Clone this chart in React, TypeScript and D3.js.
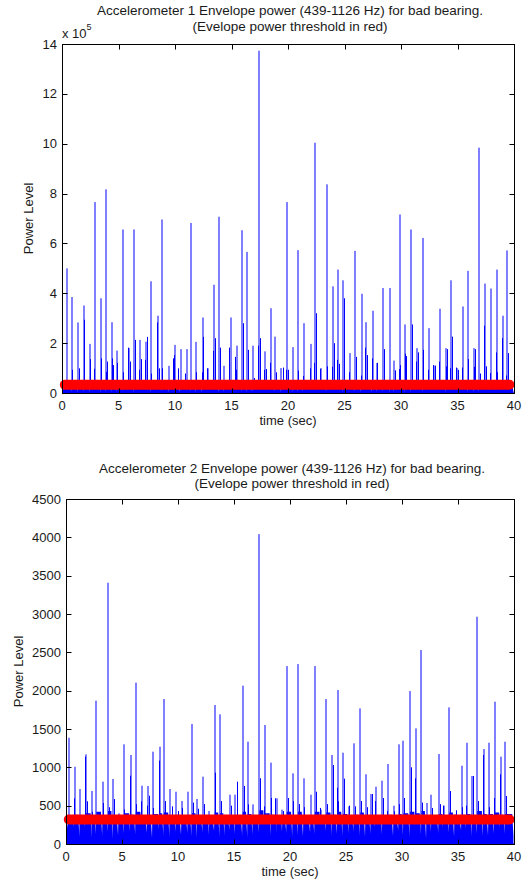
import React from 'react';
import * as d3 from 'd3';

// ---------- Shared axis data ----------
const timeTicks = [0, 5, 10, 15, 20, 25, 30, 35, 40];
const acc1YTicks = [0, 2, 4, 6, 8, 10, 12, 14]; // x 10^5
const acc2YTicks = [0, 500, 1000, 1500, 2000, 2500, 3000, 3500, 4000, 4500];

// ---------- Accelerometer 1 (values in units of 10^5) ----------
const acc1PeakTimes = [0.41, 0.92, 1.42, 1.95, 2.51, 2.93, 3.43, 3.93, 4.40, 4.85, 5.38, 5.91, 6.41, 6.91, 7.42, 7.89, 8.51, 8.89, 9.46, 10.00, 10.49, 11.02, 11.41, 11.88, 12.44, 12.91, 13.44, 13.92, 14.36, 14.92, 15.48, 15.96, 16.40, 16.87, 17.44, 17.97, 18.50, 18.88, 19.40, 19.92, 20.45, 20.92, 21.39, 22.04, 22.43, 22.95, 23.43, 24.00, 24.44, 24.91, 25.47, 25.95, 26.51, 26.92, 27.48, 27.90, 28.43, 29.02, 29.40, 29.90, 30.38, 30.91, 31.40, 31.94, 32.47, 32.95, 33.48, 34.00, 34.45, 34.95, 35.52, 35.96, 36.45, 36.91, 37.47, 37.94, 38.48, 39.03, 39.42];
const acc1PeakValues = [5.0, 3.85, 2.83, 3.51, 1.97, 7.66, 3.8, 8.17, 2.84, 1.7, 6.56, 1.8, 6.56, 2.13, 2.06, 4.48, 3.1, 6.96, 1.09, 1.93, 1.76, 1.76, 6.82, 2.05, 3.03, 0.99, 4.34, 7.07, 1.09, 3.03, 1.9, 6.53, 5.66, 1.9, 13.73, 1.67, 3.4, 2.26, 1.0, 7.66, 1.84, 5.73, 2.8, 1.97, 10.04, 1.0, 8.37, 4.28, 4.95, 4.52, 1.6, 5.7, 3.98, 2.84, 3.3, 1.2, 4.21, 4.21, 1.3, 7.16, 2.75, 6.56, 1.8, 6.22, 2.6, 1.1, 3.38, 1.8, 4.52, 1.0, 3.47, 4.9, 1.8, 9.84, 4.39, 4.19, 4.95, 3.1, 5.72];
const acc1SubTimes = [0.86, 1.48, 1.92, 2.48, 2.85, 3.48, 3.96, 3.90, 4.45, 4.47, 4.88, 5.44, 5.87, 6.04, 6.45, 6.80, 6.97, 7.37, 7.48, 7.91, 8.45, 8.55, 8.84, 9.80, 9.94, 10.30, 10.90, 11.82, 12.38, 12.50, 12.80, 13.33, 13.50, 13.95, 14.81, 15.31, 15.43, 16.02, 16.46, 16.96, 17.35, 17.50, 17.91, 18.03, 18.44, 18.95, 19.52, 19.80, 19.98, 20.86, 21.33, 21.92, 22.30, 22.49, 22.86, 23.49, 23.85, 24.08, 24.35, 24.50, 24.99, 25.40, 25.98, 26.42, 26.80, 26.98, 27.40, 27.84, 28.49, 29.44, 29.85, 29.95, 30.35, 30.45, 30.97, 31.35, 31.47, 31.97, 32.40, 32.82, 33.00, 33.40, 33.95, 34.10, 34.33, 34.48, 34.90, 35.00, 35.37, 35.93, 36.45, 36.57, 36.97, 37.37, 37.52, 37.88, 38.42, 38.53, 38.90, 38.98, 39.32, 39.50];
const acc1SubValues = [0.93, 0.99, 2.94, 1.36, 0.97, 1.39, 1.26, 0.85, 1.39, 1.12, 1.21, 0.83, 1.82, 1.26, 2.13, 0.93, 1.36, 1.33, 2.25, 0.78, 2.83, 0.99, 0.99, 1.39, 1.52, 0.99, 0.78, 0.83, 0.83, 2.25, 0.99, 1.69, 2.2, 1.82, 1.82, 1.45, 0.93, 2.8, 1.73, 0.6, 1.9, 2.2, 0.93, 0.96, 1.21, 0.83, 1.02, 0.93, 0.93, 0.9, 0.68, 0.99, 1.21, 3.2, 0.96, 1.07, 1.05, 2.0, 1.33, 1.17, 3.8, 0.83, 1.45, 0.7, 1.82, 1.52, 1.39, 1.21, 1.76, 0.91, 0.96, 1.12, 1.58, 1.48, 2.75, 1.26, 1.63, 1.73, 0.93, 1.12, 1.1, 1.26, 1.07, 1.76, 0.99, 2.26, 1.02, 0.93, 1.02, 1.36, 1.05, 1.76, 0.78, 2.7, 1.07, 0.8, 1.63, 0.83, 0.78, 2.2, 0.7, 1.6];
const acc1FloorHi = [0.38, 0.34, 0.41, 0.36, 0.33, 0.44, 0.37, 0.42, 0.35, 0.31, 0.4, 0.34, 0.39, 0.36, 0.33, 0.41, 0.37, 0.43, 0.3, 0.35, 0.33, 0.32, 0.4, 0.34, 0.38, 0.3, 0.39, 0.42, 0.31, 0.37, 0.33, 0.4, 0.39, 0.32, 0.46, 0.33, 0.38, 0.35, 0.3, 0.42, 0.34, 0.39, 0.36, 0.33, 0.44, 0.3, 0.42, 0.38, 0.4, 0.39, 0.32, 0.4, 0.37, 0.35, 0.36, 0.31, 0.38, 0.38, 0.31, 0.41, 0.35, 0.4, 0.33, 0.39, 0.35, 0.3, 0.36, 0.33, 0.38, 0.3, 0.36, 0.39, 0.33, 0.44, 0.38, 0.37, 0.39, 0.36, 0.4];
const acc1FloorLo = [0.05, 0.03, 0.06, 0.04, 0.07, 0.03, 0.05, 0.04, 0.06, 0.08, 0.04, 0.05, 0.03, 0.06, 0.05, 0.04, 0.07, 0.03, 0.06, 0.05, 0.04, 0.07, 0.03, 0.05, 0.06, 0.08, 0.04, 0.05, 0.07, 0.04, 0.06, 0.03, 0.05, 0.07, 0.03, 0.05, 0.06, 0.04, 0.08, 0.04, 0.05, 0.03, 0.06, 0.05, 0.03, 0.07, 0.04, 0.05, 0.04, 0.06, 0.07, 0.05, 0.04, 0.06, 0.05, 0.07, 0.04, 0.05, 0.08, 0.04, 0.05, 0.03, 0.06, 0.04, 0.05, 0.07, 0.05, 0.06, 0.04, 0.08, 0.05, 0.04, 0.06, 0.03, 0.05, 0.05, 0.04, 0.06, 0.05];
const acc1Threshold = 0.33; // x 10^5
const acc1ThresholdSpan = [0.25, 39.6];

// ---------- Accelerometer 2 ----------
const acc2PeakTimes = [0.24, 0.81, 1.25, 1.79, 2.36, 2.71, 3.28, 3.76, 4.21, 4.70, 5.22, 5.79, 6.23, 6.80, 7.28, 7.73, 8.38, 8.74, 9.28, 9.84, 10.32, 10.89, 11.25, 11.72, 12.23, 12.80, 13.27, 13.75, 14.20, 14.64, 15.12, 15.78, 16.23, 16.70, 17.27, 17.78, 18.34, 18.80, 19.33, 19.72, 20.25, 20.73, 21.21, 21.84, 22.22, 22.79, 23.24, 23.77, 24.25, 24.73, 25.27, 25.72, 26.28, 26.75, 27.23, 27.68, 28.25, 28.78, 29.25, 29.71, 30.13, 30.72, 31.26, 31.74, 32.20, 32.63, 33.29, 33.75, 34.22, 34.70, 35.32, 35.80, 36.27, 36.72, 37.29, 37.73, 38.27, 38.84, 39.22];
const acc2PeakValues = [1386, 1008, 717, 1169, 691, 1869, 813, 3408, 848, 400, 1300, 1161, 2104, 761, 756, 1204, 1269, 1891, 717, 682, 561, 682, 1565, 587, 878, 430, 1813, 1691, 380, 643, 643, 2065, 1334, 517, 4042, 1552, 1061, 596, 448, 2321, 922, 2347, 857, 643, 2321, 448, 1891, 1161, 2008, 1191, 491, 1313, 1769, 909, 652, 747, 826, 1043, 500, 1300, 1347, 1995, 1508, 2530, 535, 643, 1174, 500, 1782, 387, 1021, 1321, 887, 2964, 1239, 1321, 1856, 1139, 1334];
const acc2SubTimes = [0.72, 1.73, 1.85, 2.30, 3.33, 3.82, 4.27, 5.16, 5.70, 6.29, 6.74, 7.19, 7.37, 7.80, 8.30, 8.80, 9.50, 10.00, 10.40, 11.30, 11.80, 12.30, 13.32, 13.80, 14.70, 15.30, 15.85, 16.29, 17.32, 17.72, 18.28, 18.62, 19.40, 19.79, 20.30, 20.80, 21.27, 22.29, 22.70, 23.30, 23.86, 24.19, 24.32, 24.82, 25.30, 25.80, 26.35, 26.84, 27.30, 27.60, 28.34, 28.70, 29.30, 29.77, 30.22, 30.78, 31.20, 31.80, 32.70, 33.35, 33.70, 34.31, 34.80, 35.37, 35.75, 36.34, 36.80, 37.20, 37.80, 38.25, 38.78, 39.30];
const acc2SubValues = [596, 1139, 557, 420, 535, 480, 587, 450, 891, 520, 557, 500, 630, 470, 1087, 560, 491, 430, 470, 540, 460, 520, 930, 560, 500, 813, 756, 517, 857, 491, 600, 596, 430, 600, 560, 520, 480, 682, 470, 520, 1030, 734, 557, 852, 500, 491, 560, 480, 652, 560, 600, 430, 426, 520, 600, 1000, 857, 540, 470, 520, 500, 691, 440, 480, 500, 887, 560, 1161, 480, 600, 909, 626];
const acc2FloorHi = [360, 380, 340, 400, 350, 420, 360, 430, 370, 330, 400, 380, 420, 350, 360, 390, 400, 410, 350, 340, 330, 360, 400, 340, 370, 320, 410, 400, 330, 350, 360, 420, 390, 340, 440, 400, 380, 350, 330, 420, 370, 420, 360, 350, 420, 330, 410, 380, 420, 390, 340, 380, 410, 370, 350, 360, 370, 380, 340, 390, 400, 420, 400, 430, 350, 360, 390, 340, 410, 330, 380, 390, 370, 430, 390, 390, 410, 380, 390];
const acc2FloorLo = [120, 90, 150, 80, 130, 100, 160, 70, 110, 140, 90, 120, 100, 150, 80, 130, 110, 90, 160, 120, 140, 100, 80, 150, 120, 170, 90, 110, 180, 130, 100, 80, 120, 150, 70, 110, 130, 160, 140, 90, 120, 100, 150, 130, 90, 170, 110, 120, 100, 140, 160, 110, 90, 130, 150, 120, 140, 100, 170, 110, 90, 80, 120, 70, 160, 140, 110, 150, 90, 180, 120, 100, 130, 80, 110, 120, 90, 130, 110];
const acc2Threshold = 320;
const acc2ThresholdSpan = [0.25, 39.6];

const FONT = '"Liberation Sans", Arial, Helvetica, sans-serif';
const TEXT = '#1a1a1a';

type PanelProps = {
  left: number; right: number; top: number; bottom: number;
  yMax: number; yTicks: number[]; unit: number;
  peakT: number[]; peakV: number[]; subT: number[]; subV: number[];
  floorHi: number[]; floorLo: number[];
  threshold: number; span: number[];
  titles: string[]; titleY: number; yLabelX: number; exponent?: boolean;
};

function Panel(p: PanelProps) {
  const x = d3.scaleLinear().domain([0, 40]).range([p.left, p.right]);
  const y = d3.scaleLinear().domain([0, p.yMax * p.unit]).range([p.bottom, p.top]);
  const y0 = y(0);

  // floor (dense low-level oscillation) as sawtooth area
  const n = Math.min(p.peakT.length, p.floorHi.length, p.floorLo.length);
  const pts: [number, number][] = [[0, p.floorLo[0]]];
  for (let i = 0; i < n; i++) {
    const t = p.peakT[i];
    pts.push([t, p.floorHi[i]]);
    const next = i + 1 < n ? p.peakT[i + 1] : 40;
    pts.push([next - 0.16, p.floorHi[i]]);
    pts.push([next - 0.05, p.floorLo[i]]);
  }
  const area = d3.area<[number, number]>()
    .x(d => x(d[0]))
    .y0(y0)
    .y1(d => y(d[1] * p.unit));
  const floorPath = area(pts) || '';

  const nPeak = Math.min(p.peakT.length, p.peakV.length);
  let peakPath = '';
  for (let i = 0; i < nPeak; i++) {
    const px = Math.round(x(p.peakT[i]));
    peakPath += `M${px},${y0}V${y(p.peakV[i] * p.unit)}`;
  }
  const nSub = Math.min(p.subT.length, p.subV.length);
  let subPath = '';
  for (let i = 0; i < nSub; i++) {
    const px = Math.round(x(p.subT[i])) + 0.5;
    subPath += `M${px},${y0}V${y(p.subV[i] * p.unit)}`;
  }

  const cx = (p.left + p.right) / 2;
  const L = Math.round(p.left) + 0.5;
  const R = Math.round(p.right) + 0.5;
  const T = Math.round(p.top) + 0.5;
  const B = Math.round(p.bottom) + 0.5;
  const tickLen = 5;

  return (
    <g>
      {/* data */}
      <path d={floorPath} fill="#0000ff" stroke="none" />
      <path d={`M${x(0)},${y0}H${x(40)}`} stroke="#0000ff" strokeWidth={1} />
      <path d={subPath} stroke="#0000ff" strokeWidth={1} fill="none" />
      <path d={peakPath} stroke="#0000ff" strokeWidth={1} fill="none" />
      <line
        x1={x(p.span[0])} x2={x(p.span[1])}
        y1={y(p.threshold * p.unit)} y2={y(p.threshold * p.unit)}
        stroke="#ff0000" strokeWidth={10} strokeLinecap="round"
      />
      {/* box */}
      <rect x={L} y={T} width={R - L} height={B - T} fill="none" stroke="#000" strokeWidth={1} />
      {/* x ticks */}
      {timeTicks.map(t => {
        const tx = Math.round(x(t)) + 0.5;
        return (
          <g key={'x' + t}>
            <line x1={tx} x2={tx} y1={B} y2={B - tickLen} stroke="#000" />
            <line x1={tx} x2={tx} y1={T} y2={T + tickLen} stroke="#000" />
            <text x={x(t)} y={p.bottom + 17} textAnchor="middle" fontFamily={FONT} fontSize={13} fill={TEXT}>{t}</text>
          </g>
        );
      })}
      {/* y ticks */}
      {p.yTicks.map(v => {
        const ty = Math.round(y(v * p.unit)) + 0.5;
        return (
          <g key={'y' + v}>
            <line x1={L} x2={L + tickLen} y1={ty} y2={ty} stroke="#000" />
            <line x1={R} x2={R - tickLen} y1={ty} y2={ty} stroke="#000" />
            <text x={p.left - 5} y={y(v * p.unit) + 4.5} textAnchor="end" fontFamily={FONT} fontSize={13} fill={TEXT}>{v}</text>
          </g>
        );
      })}
      {p.exponent && (
        <text x={p.left} y={p.top - 6} fontFamily={FONT} fontSize={13} fill={TEXT}>
          x 10<tspan dy={-8} fontSize={9}>5</tspan>
        </text>
      )}
      {/* title lines */}
      {p.titles.map((s, i) => (
        <text key={'t' + i} x={cx + 2} y={p.titleY + i * 15.3} textAnchor="middle" fontFamily={FONT} fontSize={13.5} fill={TEXT}>{s}</text>
      ))}
      <text x={cx} y={p.bottom + 32} textAnchor="middle" fontFamily={FONT} fontSize={13} fill={TEXT}>time (sec)</text>
      <text transform={`translate(${p.yLabelX},${(p.top + p.bottom) / 2}) rotate(-90)`} textAnchor="middle" fontFamily={FONT} fontSize={13} fill={TEXT}>Power Level</text>
    </g>
  );
}

export default function App() {
  return (
    <svg width={523} height={884} style={{ position: 'absolute', left: 0, top: 0, background: '#fff' }}>
      <rect width={523} height={884} fill="#fff" />
      <Panel
        left={62} right={514} top={44} bottom={393}
        yMax={14} yTicks={acc1YTicks} unit={1e5}
        peakT={acc1PeakTimes} peakV={acc1PeakValues}
        subT={acc1SubTimes} subV={acc1SubValues}
        floorHi={acc1FloorHi} floorLo={acc1FloorLo}
        threshold={acc1Threshold} span={acc1ThresholdSpan}
        titles={['Accelerometer 1 Envelope power (439-1126 Hz) for bad bearing.', '(Evelope power threshold in red)']}
        titleY={15.3} yLabelX={33} exponent
      />
      <Panel
        left={66} right={514} top={499} bottom={844}
        yMax={4500} yTicks={acc2YTicks} unit={1}
        peakT={acc2PeakTimes} peakV={acc2PeakValues}
        subT={acc2SubTimes} subV={acc2SubValues}
        floorHi={acc2FloorHi} floorLo={acc2FloorLo}
        threshold={acc2Threshold} span={acc2ThresholdSpan}
        titles={['Accelerometer 2 Envelope power (439-1126 Hz) for bad bearing.', '(Evelope power threshold in red)']}
        titleY={473} yLabelX={23}
      />
    </svg>
  );
}
